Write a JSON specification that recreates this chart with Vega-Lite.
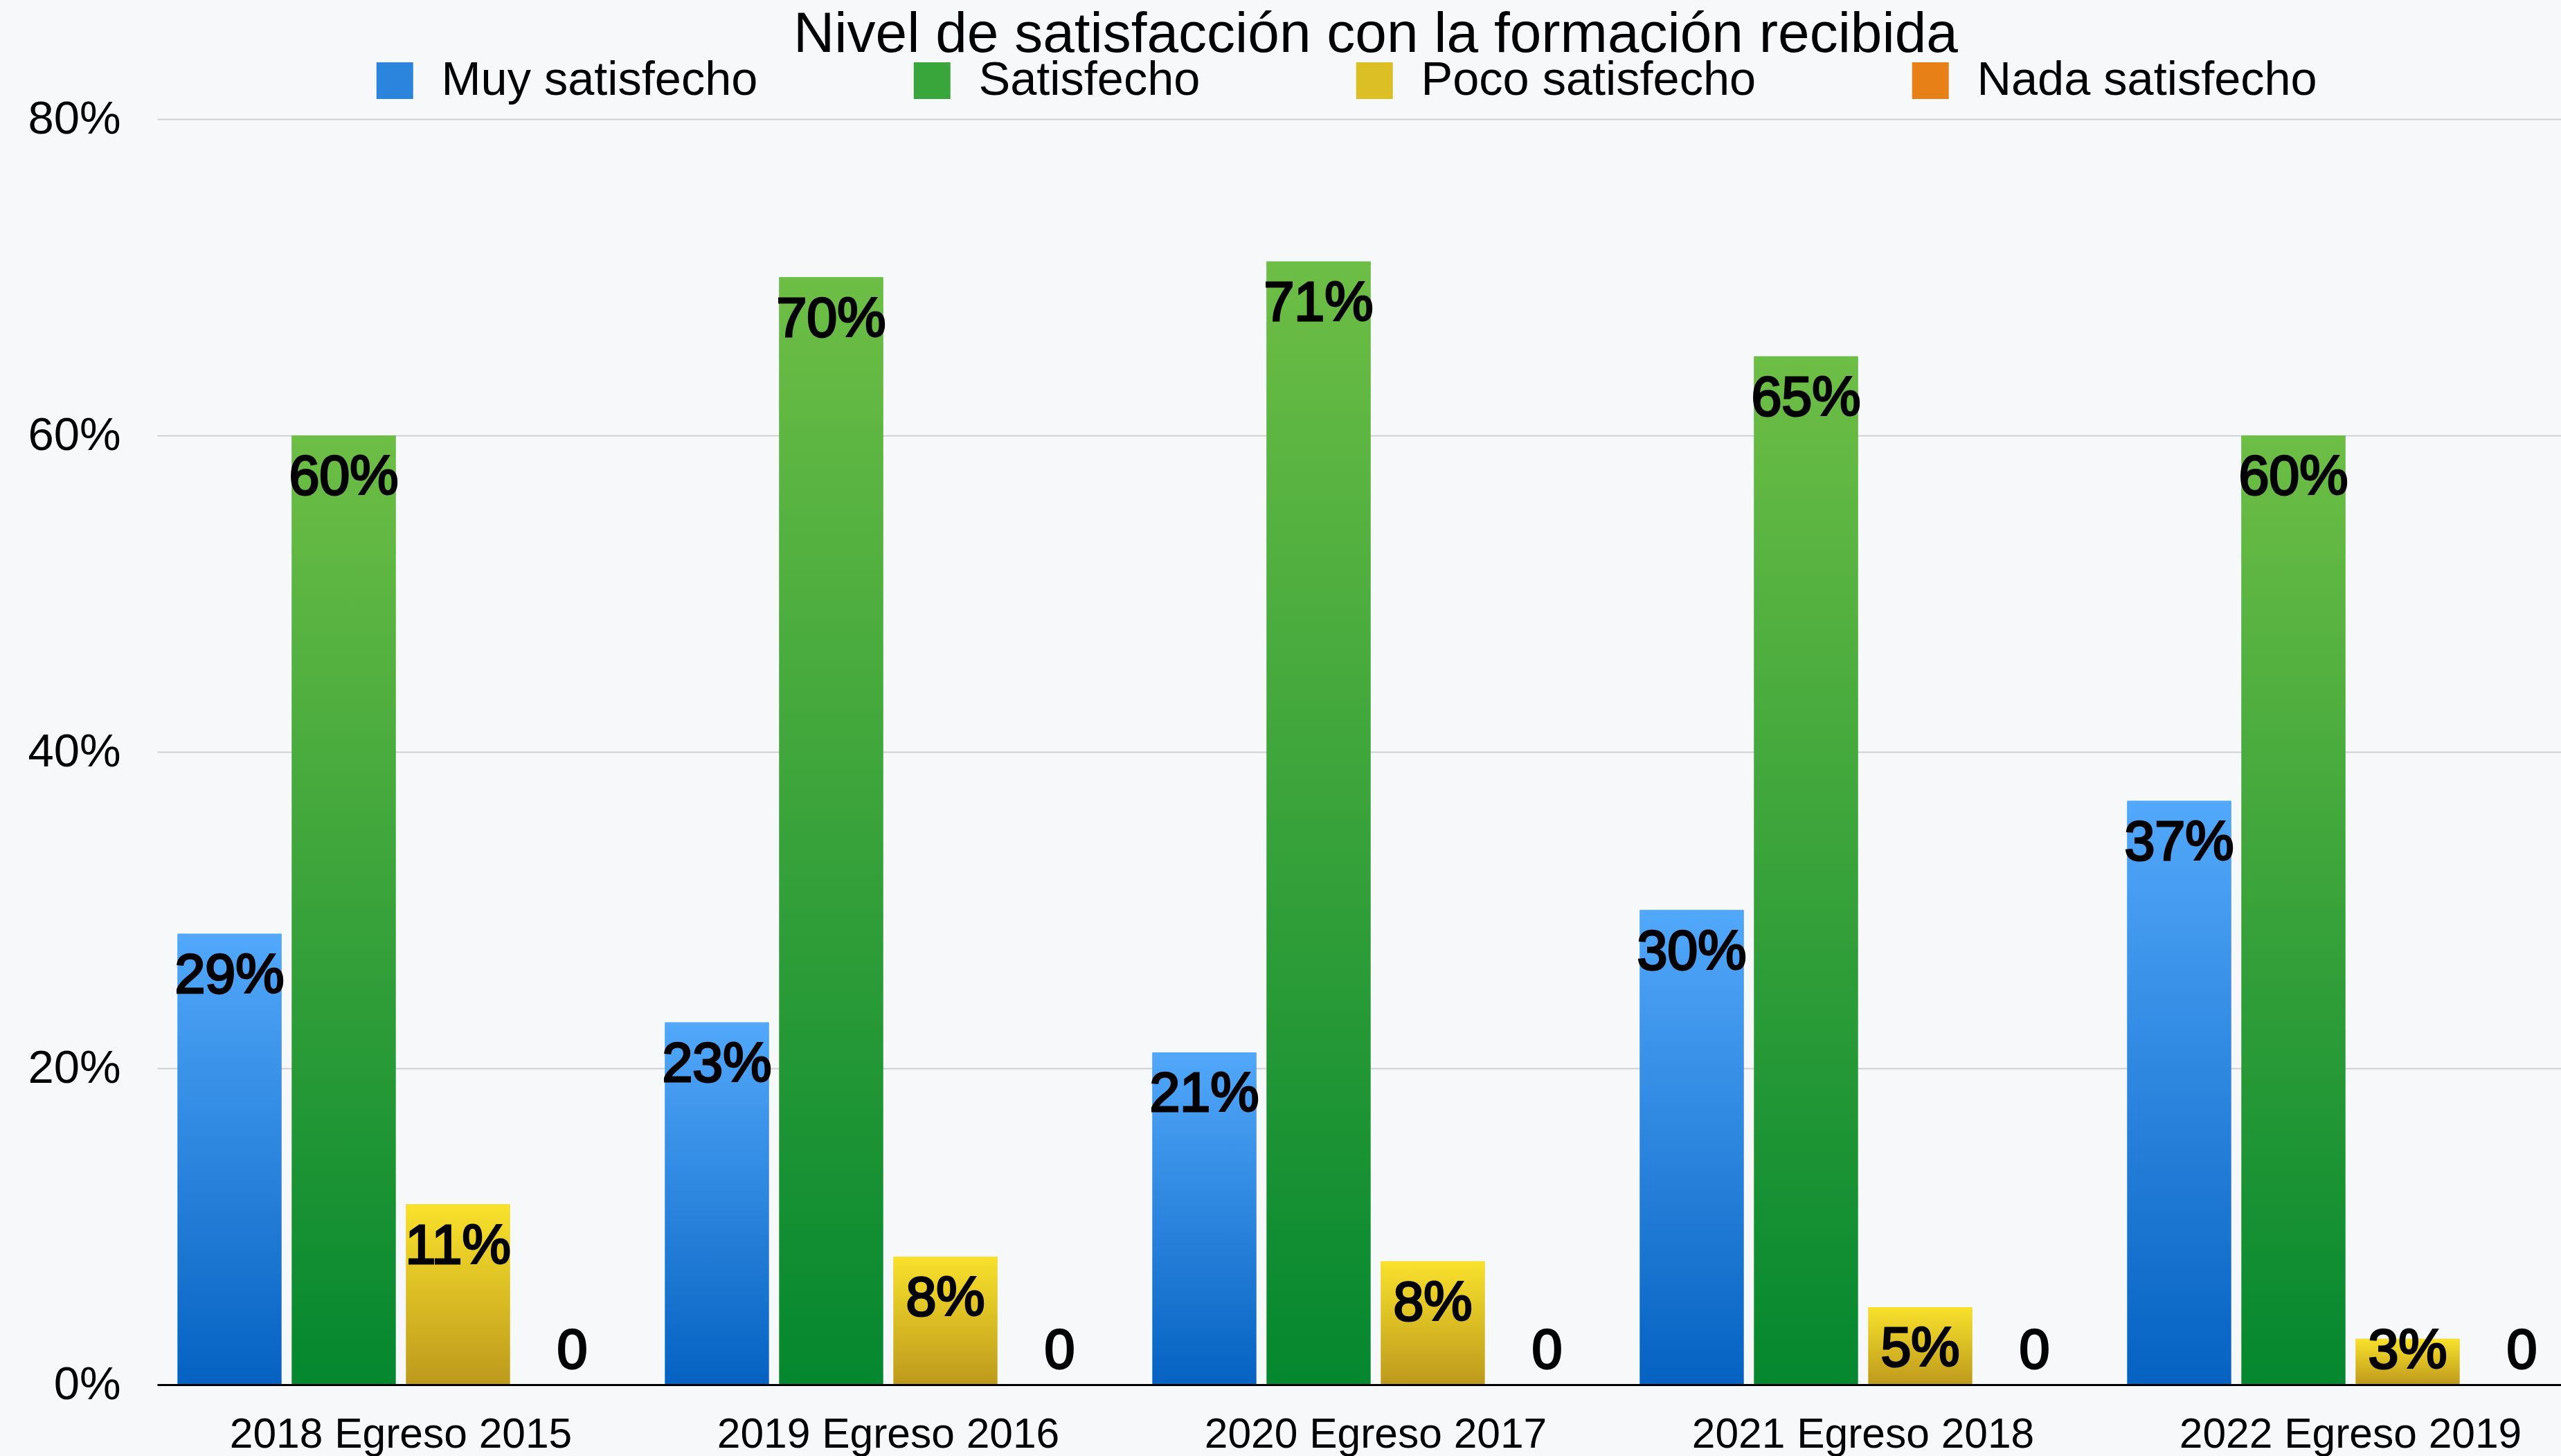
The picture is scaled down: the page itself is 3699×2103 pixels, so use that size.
{
  "$schema": "https://vega.github.io/schema/vega-lite/v6.json",
  "width": 3520,
  "height": 1828,
  "autosize": {"type": "none"},
  "padding": {"left": 227, "top": 172, "right": 0, "bottom": 103},
  "background": "#f7f8fa",
  "title": {
    "text": "Nivel de satisfacción con la formación recibida",
    "font": "Liberation Sans",
    "fontSize": 82,
    "fontWeight": "normal",
    "color": "black",
    "anchor": "middle",
    "baseline": "alphabetic",
    "offset": 4,
    "dy": 79
  },
  "config": {
    "view": {"stroke": null},
    "font": "Liberation Sans"
  },
  "data": {
    "values": [
      {"periodo": "2018 Egreso 2015", "nivel": "Muy satisfecho", "valor": 0.285, "etiqueta": "29%"},
      {"periodo": "2018 Egreso 2015", "nivel": "Satisfecho", "valor": 0.60, "etiqueta": "60%"},
      {"periodo": "2018 Egreso 2015", "nivel": "Poco satisfecho", "valor": 0.114, "etiqueta": "11%"},
      {"periodo": "2018 Egreso 2015", "nivel": "Nada satisfecho", "valor": 0, "etiqueta": "0"},
      {"periodo": "2019 Egreso 2016", "nivel": "Muy satisfecho", "valor": 0.229, "etiqueta": "23%"},
      {"periodo": "2019 Egreso 2016", "nivel": "Satisfecho", "valor": 0.70, "etiqueta": "70%"},
      {"periodo": "2019 Egreso 2016", "nivel": "Poco satisfecho", "valor": 0.081, "etiqueta": "8%"},
      {"periodo": "2019 Egreso 2016", "nivel": "Nada satisfecho", "valor": 0, "etiqueta": "0"},
      {"periodo": "2020 Egreso 2017", "nivel": "Muy satisfecho", "valor": 0.21, "etiqueta": "21%"},
      {"periodo": "2020 Egreso 2017", "nivel": "Satisfecho", "valor": 0.71, "etiqueta": "71%"},
      {"periodo": "2020 Egreso 2017", "nivel": "Poco satisfecho", "valor": 0.078, "etiqueta": "8%"},
      {"periodo": "2020 Egreso 2017", "nivel": "Nada satisfecho", "valor": 0, "etiqueta": "0"},
      {"periodo": "2021 Egreso 2018", "nivel": "Muy satisfecho", "valor": 0.30, "etiqueta": "30%"},
      {"periodo": "2021 Egreso 2018", "nivel": "Satisfecho", "valor": 0.65, "etiqueta": "65%"},
      {"periodo": "2021 Egreso 2018", "nivel": "Poco satisfecho", "valor": 0.049, "etiqueta": "5%"},
      {"periodo": "2021 Egreso 2018", "nivel": "Nada satisfecho", "valor": 0, "etiqueta": "0"},
      {"periodo": "2022 Egreso 2019", "nivel": "Muy satisfecho", "valor": 0.369, "etiqueta": "37%"},
      {"periodo": "2022 Egreso 2019", "nivel": "Satisfecho", "valor": 0.60, "etiqueta": "60%"},
      {"periodo": "2022 Egreso 2019", "nivel": "Poco satisfecho", "valor": 0.029, "etiqueta": "3%"},
      {"periodo": "2022 Egreso 2019", "nivel": "Nada satisfecho", "valor": 0, "etiqueta": "0"}
    ]
  },
  "encoding": {
    "x": {
      "field": "periodo",
      "type": "nominal",
      "sort": null,
      "scale": {"paddingInner": 0.0838, "paddingOuter": 0.0419},
      "axis": {
        "title": null,
        "labelAngle": 0,
        "labelLimit": 0,
        "ticks": false,
        "tickSize": 0,
        "grid": false,
        "domainColor": "black",
        "domainWidth": 3,
        "labelFont": "Liberation Sans",
        "labelFontSize": 60.5,
        "labelColor": "black",
        "labelPadding": 42,
        "zindex": 1
      }
    },
    "xOffset": {
      "field": "nivel",
      "type": "nominal",
      "scale": {
        "domain": ["Muy satisfecho", "Satisfecho", "Poco satisfecho", "Nada satisfecho"],
        "paddingInner": 0.0909,
        "paddingOuter": 0
      }
    },
    "y": {
      "field": "valor",
      "type": "quantitative",
      "scale": {"domain": [0, 0.8], "nice": false},
      "axis": {
        "title": null,
        "values": [0, 0.2, 0.4, 0.6, 0.8],
        "format": ".0%",
        "ticks": false,
        "tickSize": 0,
        "domain": false,
        "gridColor": "#d0d0d2",
        "gridWidth": 2,
        "labelFont": "Liberation Sans",
        "labelFontSize": 67,
        "labelColor": "black",
        "labelPadding": 53
      }
    }
  },
  "layer": [
    {
      "mark": {"type": "bar"},
      "encoding": {
        "color": {
          "field": "nivel",
          "type": "nominal",
          "scale": {
            "domain": ["Muy satisfecho", "Satisfecho", "Poco satisfecho", "Nada satisfecho"],
            "range": ["#2c85dd", "#38a63a", "#dcbf25", "#e88018"]
          },
          "legend": {
            "orient": "none",
            "legendX": 309,
            "legendY": -90,
            "direction": "horizontal",
            "title": null,
            "padding": 0,
            "symbolType": "square",
            "symbolSize": 2809,
            "symbolStrokeWidth": 0,
            "labelFont": "Liberation Sans",
            "labelFontSize": 68.5,
            "labelColor": "black",
            "labelOffset": 33,
            "labelLimit": 0,
            "columnPadding": 217,
            "encode": {
              "symbols": {
                "update": {
                  "fill": {"signal": "datum.value === 'Muy satisfecho' ? {gradient: 'linear', x1: 0, y1: 0, x2: 0, y2: 1, stops: [{offset: 0, color: '#52a8fa'}, {offset: 1, color: '#0562c1'}]} : datum.value === 'Satisfecho' ? {gradient: 'linear', x1: 0, y1: 0, x2: 0, y2: 1, stops: [{offset: 0, color: '#6dbe45'}, {offset: 1, color: '#04872f'}]} : datum.value === 'Poco satisfecho' ? {gradient: 'linear', x1: 0, y1: 0, x2: 0, y2: 1, stops: [{offset: 0, color: '#f9e12c'}, {offset: 1, color: '#bd991c'}]} : {gradient: 'linear', x1: 0, y1: 0, x2: 0, y2: 1, stops: [{offset: 0, color: '#f0961e'}, {offset: 1, color: '#df670e'}]}"}
                }
              }
            }
          }
        }
      }
    },
    {
      "transform": [{"filter": "datum.nivel === 'Muy satisfecho'"}],
      "mark": {"type": "bar", "fill": {"gradient": "linear", "x1": 0, "y1": 0, "x2": 0, "y2": 1, "stops": [{"offset": 0, "color": "#52a8fa"}, {"offset": 1, "color": "#0562c1"}]}}
    },
    {
      "transform": [{"filter": "datum.nivel === 'Satisfecho'"}],
      "mark": {"type": "bar", "fill": {"gradient": "linear", "x1": 0, "y1": 0, "x2": 0, "y2": 1, "stops": [{"offset": 0, "color": "#6dbe45"}, {"offset": 1, "color": "#04872f"}]}}
    },
    {
      "transform": [{"filter": "datum.nivel === 'Poco satisfecho'"}],
      "mark": {"type": "bar", "fill": {"gradient": "linear", "x1": 0, "y1": 0, "x2": 0, "y2": 1, "stops": [{"offset": 0, "color": "#f9e12c"}, {"offset": 1, "color": "#bd991c"}]}}
    },
    {
      "transform": [{"filter": "datum.nivel === 'Nada satisfecho'"}],
      "mark": {"type": "bar", "fill": {"gradient": "linear", "x1": 0, "y1": 0, "x2": 0, "y2": 1, "stops": [{"offset": 0, "color": "#f0961e"}, {"offset": 1, "color": "#df670e"}]}}
    },
    {
      "mark": {
        "type": "text",
        "baseline": "top",
        "align": "center",
        "font": "Liberation Sans",
        "fontSize": 79,
        "fill": "black",
        "stroke": "black",
        "strokeWidth": 3,
        "dy": {"expr": "datum.valor < 0.0477 ? 23 - (0.0477 - datum.valor) * 2285 : 23"}
      },
      "encoding": {
        "text": {"field": "etiqueta", "type": "nominal"}
      }
    }
  ]
}
